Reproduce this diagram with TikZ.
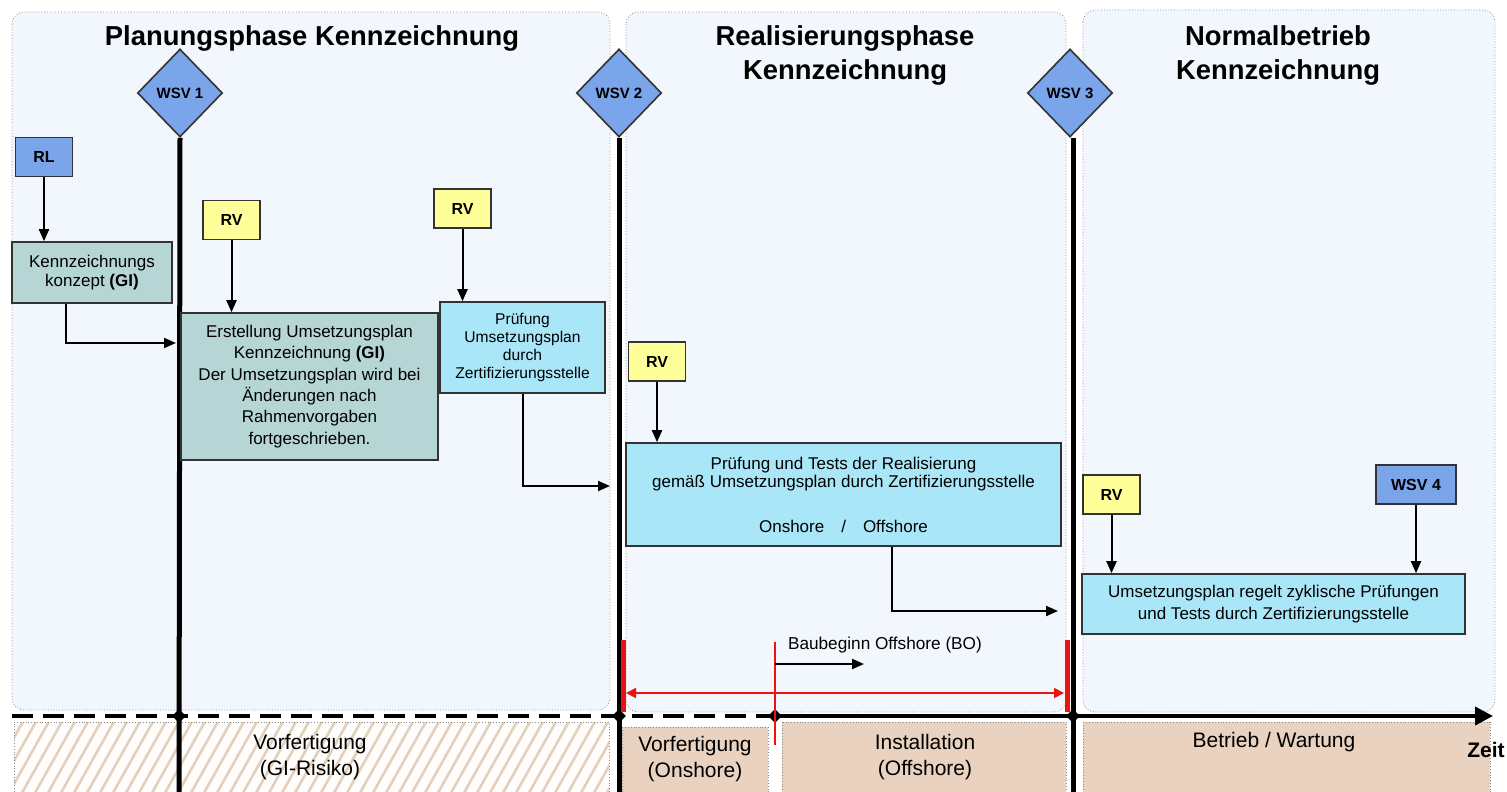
\documentclass[tikz,border=0pt]{standalone}
\usepackage{fontspec}
\setmainfont{Liberation Sans}
\usetikzlibrary{shapes.geometric,arrows.meta}
\definecolor{panelbg}{HTML}{F1F7FD}
\definecolor{boxteal}{HTML}{B5D6D5}
\definecolor{boxcyan}{HTML}{A8E6F8}
\definecolor{boxyellow}{HTML}{FFFF99}
\definecolor{boxblue}{HTML}{7BA5EA}
\definecolor{boxtan}{HTML}{E9D2BF}
\definecolor{hatchc}{HTML}{E3D0BC}
\definecolor{redl}{HTML}{EE1111}
\tikzset{
  panel/.style={draw=black!45, densely dotted, line width=0.4pt, rounded corners=6pt, fill=panelbg},
  bbox/.style={draw=black!80, line width=0.8pt, inner sep=0pt, align=center, font=\fontsize{8.5}{10.7}\selectfont},
  tagbox/.style={draw=black!80, line width=0.8pt, inner sep=0pt, minimum width=28.5pt, minimum height=19.5pt, font=\fontsize{8}{9}\selectfont\bfseries},
  wsvd/.style={diamond, draw=black!80, line width=0.8pt, fill=boxblue, inner sep=0pt, minimum width=42.5pt, minimum height=44pt, font=\fontsize{7.5}{8}\selectfont\bfseries},
  arr/.style={line width=1pt, -{Triangle[length=6pt,width=5pt]}},
  phase/.style={line width=2.5pt},
  ttl/.style={font=\fontsize{13.7}{17}\selectfont\bfseries, align=center},
  btm/.style={font=\fontsize{10.5}{13}\selectfont, align=center},
  tmark/.style={diamond, fill=black, inner sep=0pt, minimum width=7pt, minimum height=7pt},
  bpanel/.style={draw=black!45, densely dotted, line width=0.4pt, fill=boxtan}
}
\begin{document}
\begin{tikzpicture}[x=0.5pt,y=-0.5pt]
\useasboundingbox (0,0) rectangle (1507,791);
% panels
\draw[panel] (12,12) rectangle (610,710);
\draw[panel] (626,12) rectangle (1066,712);
\draw[panel] (1083,10) rectangle (1495,712);
% titles
\node[ttl] (t1) at (312,38) {Planungsphase Kennzeichnung};
\node[ttl] (t2) at (845,55) {Realisierungsphase\\Kennzeichnung};
\node[ttl] (t3) at (1278,55) {Normalbetrieb\\Kennzeichnung};
% bottom panels
\begin{scope}
\clip (14,722) rectangle (609,791);
\fill[white!96!hatchc] (14,722) rectangle (609,791);
\foreach \i in {-60,-47,...,620} {\draw[hatchc, line width=1.3pt] (\i,800) -- (\i+46,718);}
\end{scope}
\draw[draw=black!45, densely dotted, line width=0.4pt] (14,800) -- (14,722) -- (609,722) -- (609,800);
\draw[bpanel] (622,727) rectangle (768,800);
\draw[bpanel] (782,722) rectangle (1066,800);
\draw[bpanel] (1083,722) rectangle (1490,800);
\node[btm] (b1) at (310,757) {Vorfertigung\\(GI-Risiko)};
\node[btm] (b2) at (695,759) {Vorfertigung\\(Onshore)};
\node[btm] (b3) at (925,757) {Installation\\(Offshore)};
\node[btm] (b4) at (1274,742) {Betrieb / Wartung};
\node[font=\fontsize{10.5}{12}\selectfont\bfseries] (zeit) at (1486,750) {Zeit};
% diamonds and phase lines
\node[wsvd] (w1) at (180,93) {WSV 1};
\node[wsvd] (w2) at (619,93) {WSV 2};
\node[wsvd] (w3) at (1070,93) {WSV 3};
\coordinate (w1b) at (179,800);
\coordinate (w2b) at (619,800);
\coordinate (w3b) at (1073,800);
\draw[phase] (w1.south) -- (w1b);
\draw[phase] (w2.south) -- (w2b);
\draw[phase] ([xshift=1.5pt]w3.south) -- (w3b);
% timeline
\coordinate (ts) at (12,716);
\coordinate (te) at (1493,716);
\node[tmark] (m1) at (179,716) {};
\node[tmark] (m2) at (619,716) {};
\node[tmark] (m3) at (775,716) {};
\node[tmark] (m4) at (1073,716) {};
\draw[line width=1.6pt, dash pattern=on 10.5pt off 5pt] (ts) -- (m3.center);
\draw[line width=2pt, -{Triangle[length=9pt,width=9pt]}] (m3.center) -- (te);
% red markers
\coordinate (r1a) at (623,640); \coordinate (r1b) at (623,712);
\coordinate (r2a) at (1067,640); \coordinate (r2b) at (1067,712);
\coordinate (r3a) at (775,642); \coordinate (r3b) at (775,745);
\draw[redl, line width=2.5pt] (r1a) -- (r1b);
\draw[redl, line width=2.5pt] (r2a) -- (r2b);
\draw[redl, line width=0.9pt] (r3a) -- (r3b);
\coordinate (ra) at (626,693); \coordinate (rb) at (1064,693);
\draw[redl, line width=0.9pt, {Triangle[length=5pt,width=5pt]}-{Triangle[length=5pt,width=5pt]}] (ra) -- (rb);
\node[anchor=west, font=\fontsize{8.6}{10}\selectfont] (bo) at (781,645) {Baubeginn Offshore (BO)};
\coordinate (boa) at (775,664); \coordinate (bob) at (864,664);
\draw[arr] (boa) -- (bob);
% boxes
\node[tagbox, fill=boxblue] (rl) at (44,157) {RL};
\node[bbox, fill=boxteal, minimum width=80pt, minimum height=30.5pt, font=\fontsize{8.5}{9.5}\selectfont] (kk) at (92,272.5) {Kennzeichnungs\\konzept \textbf{(GI)}};
\node[tagbox, fill=boxyellow] (rv1) at (231.5,220) {RV};
\node[bbox, fill=boxteal, minimum width=128.5pt, minimum height=73.5pt] (ers) at (309.5,386.5) {Erstellung Umsetzungsplan\\Kennzeichnung \textbf{(GI)}\\Der Umsetzungsplan wird bei\\Änderungen nach\\Rahmenvorgaben\\fortgeschrieben.};
\node[tagbox, fill=boxyellow] (rv2) at (462.5,208.5) {RV};
\node[bbox, fill=boxcyan, minimum width=82.5pt, minimum height=45.5pt, font=\fontsize{7.8}{9}\selectfont] (pup) at (522.5,347.5) {Prüfung\\Umsetzungsplan\\durch\\Zertifizierungsstelle};
\node[tagbox, fill=boxyellow] (rv3) at (657,361.5) {RV};
\node[bbox, fill=boxcyan, minimum width=217.5pt, minimum height=51.5pt, font=\fontsize{8.5}{9}\selectfont] (ptr) at (843.5,494.5) {Prüfung und Tests der Realisierung\\gemäß Umsetzungsplan durch Zertifizierungsstelle\\[13.5pt]Onshore\quad/\quad Offshore};
\node[tagbox, fill=boxyellow] (rv4) at (1111.5,494.5) {RV};
\node[tagbox, fill=boxblue, minimum width=40pt] (w4) at (1416,484.5) {WSV 4};
\node[bbox, fill=boxcyan, minimum width=191.5pt, minimum height=30pt, font=\fontsize{8.5}{11}\selectfont] (uzp) at (1273.5,604) {Umsetzungsplan regelt zyklische Prüfungen\\und Tests durch Zertifizierungsstelle};
% connectors
\coordinate (e1) at (176,343);
\coordinate (e2) at (610,486);
\coordinate (e3) at (1058,611);
\draw[arr] (rl.south) -- (rl.south |- kk.north);
\draw[arr] ([xshift=-13pt]kk.south) |- (e1);
\draw[arr] (rv1.south) -- (rv1.south |- ers.north);
\draw[arr] (rv2.south) -- (rv2.south |- pup.north);
\draw[arr] (pup.south) |- (e2);
\draw[arr] (rv3.south) -- (rv3.south |- ptr.north);
\draw[arr] ([xshift=24.25pt]ptr.south) |- (e3);
\draw[arr] (rv4.south) -- (rv4.south |- uzp.north);
\draw[arr] (w4.south) -- (w4.south |- uzp.north);
\end{tikzpicture}
\end{document}
